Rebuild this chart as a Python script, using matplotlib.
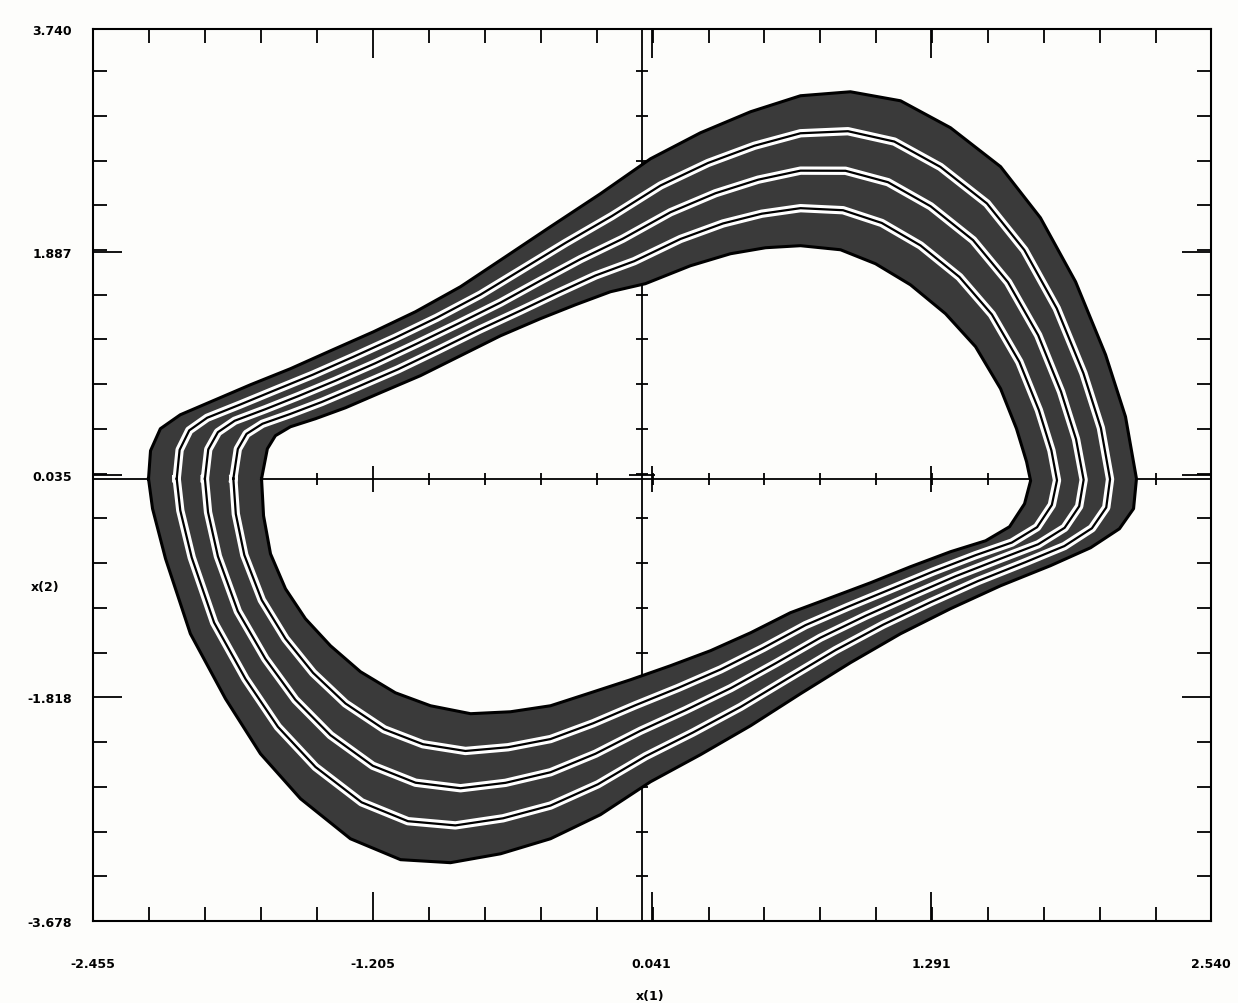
import matplotlib
matplotlib.use("Agg")
import matplotlib.pyplot as plt
import matplotlib.patheffects as pe
from matplotlib.path import Path
from matplotlib.patches import PathPatch
from matplotlib.ticker import AutoMinorLocator
import numpy as np

# axis ticks as printed on the plot
x_ticks = [-2.455, -1.205, 0.041, 1.291, 2.540]
x_tick_labels = ["-2.455", "-1.205", "0.041", "1.291", "2.540"]
y_ticks = [3.740, 1.887, 0.035, -1.818, -3.678]
y_tick_labels = ["3.740", "1.887", "0.035", "-1.818", "-3.678"]

# outermost orbit
outer_x = [-2.207, -2.198, -2.154, -2.065, -1.908, -1.751, -1.573, -1.394, -1.202, -1.014,
           -0.813, -0.612, -0.411, -0.188, 0.036, 0.259, 0.483, 0.706, 0.929, 1.153,
           1.376, 1.600, 1.778, 1.935, 2.069, 2.158, 2.207, 2.194, 2.131, 2.002,
           1.823, 1.600, 1.376, 1.153, 0.929, 0.706, 0.483, 0.259, 0.036, -0.188,
           -0.411, -0.634, -0.858, -1.081, -1.305, -1.528, -1.707, -1.863, -2.020, -2.131, -2.189]
outer_y = [0.000, 0.233, 0.416, 0.532, 0.657, 0.782, 0.915, 1.064, 1.222, 1.389,
           1.597, 1.846, 2.096, 2.370, 2.661, 2.877, 3.052, 3.185, 3.218, 3.143,
           2.919, 2.595, 2.170, 1.638, 1.031, 0.516, 0.000, -0.249, -0.416, -0.574,
           -0.723, -0.890, -1.081, -1.289, -1.530, -1.788, -2.054, -2.295, -2.520, -2.794,
           -2.994, -3.119, -3.193, -3.168, -2.994, -2.661, -2.287, -1.830, -1.289, -0.665, -0.249]

# orbits inside the band
band1_x = [-2.081, -2.068, -2.025, -1.945, -1.796, -1.645, -1.473, -1.294, -1.105, -0.919,
           -0.724, -0.534, -0.344, -0.138, 0.081, 0.293, 0.500, 0.706, 0.918, 1.125,
           1.331, 1.539, 1.706, 1.851, 1.970, 2.048, 2.089, 2.072, 2.008, 1.885,
           1.711, 1.499, 1.287, 1.075, 0.862, 0.650, 0.438, 0.226, 0.014, -0.199,
           -0.411, -0.623, -0.836, -1.048, -1.255, -1.461, -1.629, -1.774, -1.914, -2.014, -2.065]
band1_y = [0.000, 0.240, 0.402, 0.507, 0.618, 0.734, 0.865, 1.012, 1.172, 1.339,
           1.531, 1.746, 1.961, 2.183, 2.439, 2.626, 2.769, 2.873, 2.890, 2.804,
           2.593, 2.289, 1.902, 1.416, 0.877, 0.422, -0.004, -0.239, -0.412, -0.560,
           -0.694, -0.851, -1.027, -1.214, -1.426, -1.661, -1.898, -2.110, -2.308, -2.541,
           -2.718, -2.824, -2.883, -2.848, -2.691, -2.397, -2.063, -1.664, -1.196, -0.655, -0.264]

band2_x = [-1.955, -1.940, -1.897, -1.822, -1.685, -1.539, -1.372, -1.193, -1.008, -0.824,
           -0.635, -0.456, -0.277, -0.088, 0.125, 0.326, 0.517, 0.706, 0.907, 1.097,
           1.287, 1.477, 1.633, 1.768, 1.870, 1.937, 1.971, 1.951, 1.886, 1.768,
           1.600, 1.399, 1.198, 0.997, 0.795, 0.595, 0.394, 0.192, -0.009, -0.210,
           -0.411, -0.612, -0.813, -1.014, -1.205, -1.394, -1.551, -1.685, -1.808, -1.897, -1.941]
band2_y = [0.000, 0.244, 0.387, 0.482, 0.578, 0.686, 0.815, 0.961, 1.123, 1.289,
           1.464, 1.647, 1.826, 1.996, 2.216, 2.374, 2.487, 2.562, 2.561, 2.466,
           2.266, 1.984, 1.634, 1.193, 0.724, 0.329, -0.009, -0.229, -0.408, -0.545,
           -0.665, -0.811, -0.973, -1.140, -1.322, -1.535, -1.742, -1.925, -2.096, -2.287,
           -2.441, -2.529, -2.574, -2.528, -2.387, -2.133, -1.838, -1.497, -1.102, -0.645, -0.279]

band3_x = [-1.828, -1.808, -1.769, -1.698, -1.573, -1.433, -1.272, -1.093, -0.910, -0.729,
           -0.545, -0.377, -0.210, -0.037, 0.170, 0.360, 0.533, 0.706, 0.896, 1.069,
           1.242, 1.416, 1.561, 1.684, 1.771, 1.827, 1.852, 1.829, 1.763, 1.650,
           1.488, 1.298, 1.108, 0.918, 0.728, 0.539, 0.349, 0.159, -0.032, -0.221,
           -0.411, -0.601, -0.791, -0.981, -1.154, -1.327, -1.472, -1.595, -1.701, -1.779, -1.817]
band3_y = [0.000, 0.247, 0.373, 0.457, 0.539, 0.638, 0.765, 0.909, 1.073, 1.239,
           1.398, 1.547, 1.690, 1.809, 1.994, 2.123, 2.204, 2.250, 2.233, 2.127,
           1.940, 1.678, 1.366, 0.971, 0.570, 0.235, -0.013, -0.218, -0.403, -0.531,
           -0.636, -0.772, -0.919, -1.065, -1.218, -1.408, -1.586, -1.740, -1.884, -2.034,
           -2.165, -2.233, -2.264, -2.208, -2.084, -1.869, -1.614, -1.331, -1.009, -0.634, -0.293]

# innermost orbit
inner_x = [-1.702, -1.676, -1.640, -1.573, -1.461, -1.327, -1.171, -0.992, -0.813, -0.634,
           -0.456, -0.299, -0.143, 0.013, 0.214, 0.393, 0.550, 0.706, 0.885, 1.041,
           1.197, 1.354, 1.488, 1.600, 1.671, 1.716, 1.734, 1.707, 1.640, 1.533,
           1.376, 1.197, 1.019, 0.840, 0.661, 0.483, 0.304, 0.125, -0.054, -0.232,
           -0.411, -0.590, -0.768, -0.947, -1.104, -1.260, -1.394, -1.506, -1.595, -1.662, -1.693]
inner_y = [0.000, 0.249, 0.358, 0.432, 0.499, 0.590, 0.715, 0.857, 1.023, 1.189,
           1.331, 1.447, 1.555, 1.622, 1.771, 1.871, 1.921, 1.938, 1.904, 1.788,
           1.613, 1.372, 1.098, 0.748, 0.416, 0.141, -0.017, -0.208, -0.399, -0.516,
           -0.607, -0.732, -0.865, -0.990, -1.114, -1.281, -1.430, -1.555, -1.672, -1.780,
           -1.888, -1.938, -1.954, -1.888, -1.780, -1.605, -1.389, -1.164, -0.915, -0.624, -0.308]

W, H = 1238, 1004
fig = plt.figure(figsize=(W / 100, H / 100), dpi=100)
fig.patch.set_facecolor("#fdfdfb")
ax = fig.add_axes([93 / W, 1 - 922 / H, (1211 - 93) / W, (922 - 30) / H])
ax.set_facecolor("#fdfdfb")
ax.set_xlim(-2.455, 2.540)
ax.set_ylim(-3.678, 3.740)

# dark band between the outer and inner orbit
ring_verts = list(zip(outer_x, outer_y)) + [(outer_x[0], outer_y[0])]
ring_verts += list(zip(inner_x[::-1], inner_y[::-1])) + [(inner_x[-1], inner_y[-1])]
ring_codes = [Path.MOVETO] + [Path.LINETO] * (len(outer_x) - 1) + [Path.CLOSEPOLY]
ring_codes += [Path.MOVETO] + [Path.LINETO] * (len(inner_x) - 1) + [Path.CLOSEPOLY]
ax.add_patch(PathPatch(Path(ring_verts, ring_codes), facecolor="#3a3a3a",
                       edgecolor="none", zorder=2))

# inner orbits: black trace with white gaps either side
halo = [pe.Stroke(linewidth=6, foreground="white"), pe.Normal()]
for lx, ly in [(band1_x, band1_y), (band2_x, band2_y), (band3_x, band3_y)]:
    ax.plot(lx + lx[:1], ly + ly[:1], color="black", lw=1.6,
            solid_joinstyle="round", path_effects=halo, zorder=3)

for lx, ly in [(outer_x, outer_y), (inner_x, inner_y)]:
    ax.plot(lx + lx[:1], ly + ly[:1], color="black", lw=2.2,
            solid_joinstyle="round", zorder=4)

# axis ticks
ax.set_xticks(x_ticks, x_tick_labels)
ax.set_yticks(y_ticks, y_tick_labels)
ax.xaxis.set_minor_locator(AutoMinorLocator(5))
ax.yaxis.set_minor_locator(AutoMinorLocator(5))
ax.tick_params(which="both", direction="in", top=True, right=True, width=1.3, colors="black")
ax.tick_params(which="major", length=21)
ax.tick_params(which="minor", length=10)
ax.tick_params(axis="x", which="major", pad=26, labelsize=9)
ax.tick_params(axis="y", which="major", pad=15, labelsize=9)
for lab in ax.get_xticklabels() + ax.get_yticklabels():
    lab.set_fontweight("bold")
for s in ax.spines.values():
    s.set_linewidth(1.5)

# crosshair through the origin, with its own small ticks
ax.axhline(0, color="black", lw=1.3, zorder=1)
ax.axvline(0, color="black", lw=1.3, zorder=1)
xminor = ax.xaxis.get_minorticklocs()
yminor = ax.yaxis.get_minorticklocs()
ax.plot(xminor, np.zeros(len(xminor)), ls="none", marker="|", ms=9, mew=1.3, color="black", zorder=1)
ax.plot(x_ticks[1:-1], np.zeros(3), ls="none", marker="|", ms=19, mew=1.3, color="black", zorder=1)
ax.plot(np.zeros(len(yminor)), yminor, ls="none", marker="_", ms=9, mew=1.3, color="black", zorder=1)
ax.plot(np.zeros(3), y_ticks[1:-1], ls="none", marker="_", ms=19, mew=1.3, color="black", zorder=1)

fig.text(45 / W, 1 - 588 / H, "x(2)", ha="center", va="center", fontsize=9, fontweight="bold")
fig.text(650 / W, 1 - 997 / H, "x(1)", ha="center", va="center", fontsize=9, fontweight="bold")

fig.savefig("out.png", dpi=100, facecolor=fig.get_facecolor())
